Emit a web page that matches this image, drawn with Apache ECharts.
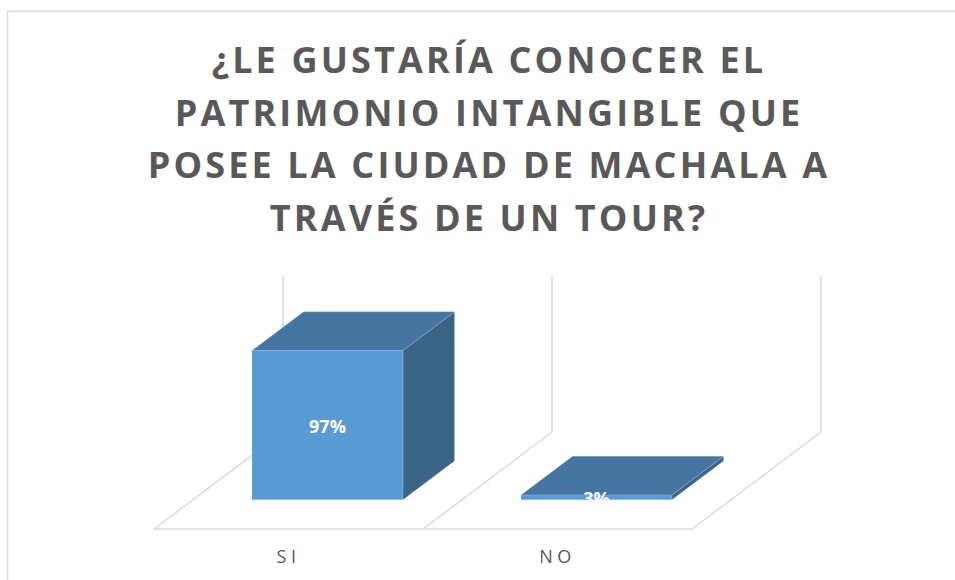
<!DOCTYPE html>
<html>
<head>
<meta charset="utf-8">
<style>
html,body{margin:0;padding:0;background:#fff}
#c{width:955px;height:580px}
#c svg text,#c svg tspan{letter-spacing:3.15px}
#c svg text[style*="18px"],#c svg tspan[style*="18px"]{letter-spacing:4.5px}
#c svg text[fill="#fff"],#c svg text[fill="#ffffff"],#c svg tspan[fill="#fff"],#c svg tspan[fill="#ffffff"]{letter-spacing:0}
</style>
</head>
<body>
<div id="c"></div>
<script src="https://cdn.jsdelivr.net/npm/echarts@6/dist/echarts.min.js"></script>
<script>
const titleLines = ['¿LE GUSTARÍA CONOCER EL','PATRIMONIO INTANGIBLE QUE','POSEE LA CIUDAD DE MACHALA A','TRAVÉS DE UN TOUR?'];
const categories = ['SI','NO'];
const percentValues = [97,3];
const valueAxisMax = 101.5;

const FLOOR_DX = 129, FLOOR_DY = -97;
const BAR_START = 0.302, BAR_DEPTH = 0.4, BAR_BAND = 0.561;
const GRID_COLOR = '#d9d9d9', TEXT_COLOR = '#595959';

function wallItem(params, api){
  const i = api.value(0);
  const band = api.size([1,0])[0];
  const base = api.coord([i,0]);
  const top = api.coord([i,valueAxisMax]);
  const edges = i === categories.length-1 ? [-band/2, band/2] : [-band/2];
  const style = {stroke:GRID_COLOR,lineWidth:1.5,fill:null};
  return {type:'group',children:edges.map(e=>({
    type:'polyline',
    shape:{points:[[base[0]+e,base[1]],[base[0]+e+FLOOR_DX,base[1]+FLOOR_DY],[top[0]+e+FLOOR_DX,top[1]+FLOOR_DY]]},
    style
  }))};
}
function barItem(params, api){
  const i = api.value(0), v = api.value(1);
  const band = api.size([1,0])[0];
  const w = band*BAR_BAND;
  const base = api.coord([i,0]);
  const top = api.coord([i,v]);
  const sx = FLOOR_DX*BAR_START, sy = FLOOR_DY*BAR_START;
  const dx = FLOOR_DX*BAR_DEPTH, dy = FLOOR_DY*BAR_DEPTH;
  const L = base[0]+sx-w/2, R = L+w, B = base[1]+sy, T = top[1]+sy;
  const edge = 'rgba(160,200,235,0.35)';
  const poly = (pts,fill)=>({type:'polygon',shape:{points:pts},style:{fill,stroke:edge,lineWidth:0.8}});
  return {type:'group',children:[
    poly([[R,B],[R+dx,B+dy],[R+dx,T+dy],[R,T]],'#3b6487'),
    poly([[L,T],[R,T],[R+dx,T+dy],[L+dx,T+dy]],'#4675a2'),
    poly([[L,T],[R,T],[R,B],[L,B]],'#5b9bd5'),
    {type:'text',style:{text:v+'%',x:(L+R)/2,y:(T+B)/2+1,align:'center',verticalAlign:'middle',fill:'#fff',font:'bold 18px "Open Sans"'}}
  ]};
}

const chart = echarts.init(document.getElementById('c'),null,{renderer:'svg'});
chart.setOption({
  animation:false,
  backgroundColor:'#fff',
  title:{
    text:titleLines.join('\n'),
    left:484,top:28,textAlign:'center',
    textStyle:{fontFamily:'Open Sans',fontWeight:'bold',fontSize:36,lineHeight:52.7,color:TEXT_COLOR}
  },
  grid:{left:154,top:373,width:538,height:156},
  xAxis:{
    type:'category',data:categories,
    axisTick:{show:false},
    axisLine:{lineStyle:{color:GRID_COLOR,width:1.5}},
    axisLabel:{margin:18,fontFamily:'Open Sans',fontSize:18,color:TEXT_COLOR}
  },
  yAxis:{type:'value',min:0,max:valueAxisMax,show:false,splitLine:{show:false}},
  graphic:[{type:'polyline',silent:true,z:0,shape:{points:[[7.5,580],[7.5,11.5],[955,11.5]]},style:{stroke:GRID_COLOR,lineWidth:1.5,fill:null}}],
  series:[
    {type:'custom',z:1,silent:true,renderItem:wallItem,encode:{x:0,y:1},data:categories.map((c,i)=>[i,percentValues[i]])},
    {type:'custom',z:2,renderItem:barItem,encode:{x:0,y:1},data:categories.map((c,i)=>[i,percentValues[i]])}
  ]
});
</script>
</body>
</html>
